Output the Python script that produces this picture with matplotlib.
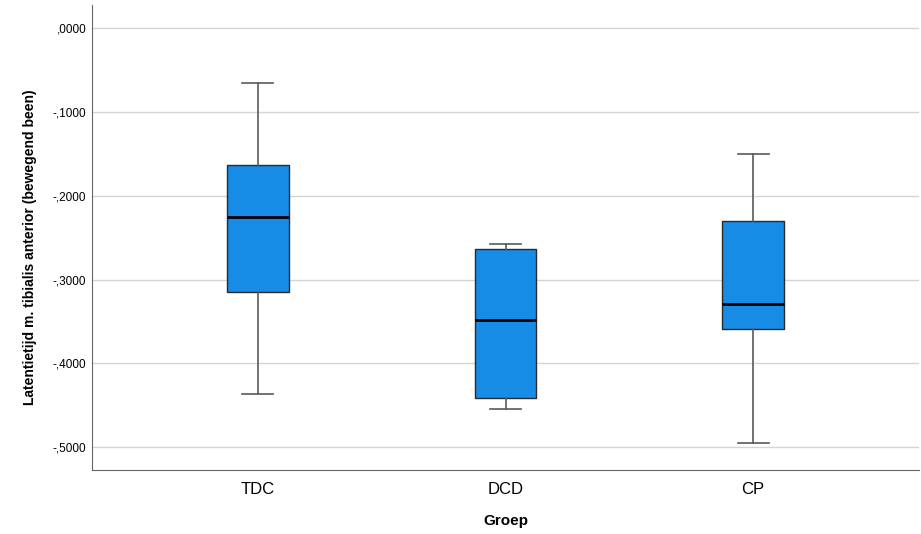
import matplotlib
matplotlib.use("Agg")
from matplotlib import pyplot as plt
from matplotlib.ticker import FuncFormatter

groups = ["TDC", "DCD", "CP"]
whisker_low = [-0.4369, -0.4541, -0.4951]
q1 = [-0.3151, -0.4413, -0.3585]
median = [-0.2254, -0.3485, -0.3287]
q3 = [-0.1633, -0.2637, -0.2295]
whisker_high = [-0.0654, -0.2574, -0.1502]
y_ticks = [0.0, -0.1, -0.2, -0.3, -0.4, -0.5]

plt.rcParams['font.family'] = ['Liberation Sans', 'DejaVu Sans']

stats = []
for i, g in enumerate(groups):
    stats.append({
        'label': g, 'whislo': whisker_low[i], 'q1': q1[i], 'med': median[i],
        'q3': q3[i], 'whishi': whisker_high[i], 'fliers': [],
    })

fig = plt.figure(figsize=(9.21, 5.34), dpi=100)
ax = fig.add_axes([92 / 921, 1 - 470 / 534, 827 / 921, 465 / 534])

ax.bxp(stats, positions=[1, 2, 3], widths=0.25, capwidths=0.125,
       patch_artist=True, showfliers=False,
       boxprops=dict(facecolor='#168ce6', edgecolor='#2a2a2a', linewidth=1.0),
       medianprops=dict(color='black', linewidth=2.0),
       whiskerprops=dict(color='#5a5a5a', linewidth=1.2),
       capprops=dict(color='#5a5a5a', linewidth=1.2),
       zorder=3)

ax.set_xlim(0.33, 3.67)
ax.set_ylim(-0.5274, 0.0279)
ax.set_yticks(y_ticks)


def fmt(v, pos):
    s = f"{v:.4f}"
    s = s.replace("0.", ".").replace(".", ",")
    if s.startswith("-,0000"):
        s = ",0000"
    return s


ax.yaxis.set_major_formatter(FuncFormatter(fmt))
ax.grid(axis='y', color='#d4d4d4', linewidth=1.0, zorder=0)
ax.set_axisbelow(True)
ax.tick_params(axis='y', length=0, labelsize=8.5, pad=4)
ax.tick_params(axis='x', length=0, labelsize=12, pad=9)

for side in ['top', 'right']:
    ax.spines[side].set_visible(False)
ax.spines['left'].set_color('#666666')
ax.spines['bottom'].set_color('#666666')

ax.set_xlabel('Groep', fontsize=11, fontweight='bold')
ax.xaxis.set_label_coords(0.5, -(521 - 470) / 465, transform=None)
ax.set_ylabel('Latentietijd m. tibialis anterior (bewegend been)', fontsize=10,
              fontweight='bold')

fig.canvas.draw()
ax.xaxis.set_label_coords(0.5, -(521 - 470) / 465)
ax.xaxis.label.set_va('center')
ax.yaxis.set_label_coords(-(92 - 30) / 827, 1 - (247 - 5) / 465)
ax.yaxis.label.set_va('center')

fig.savefig('out.png', dpi=100)
